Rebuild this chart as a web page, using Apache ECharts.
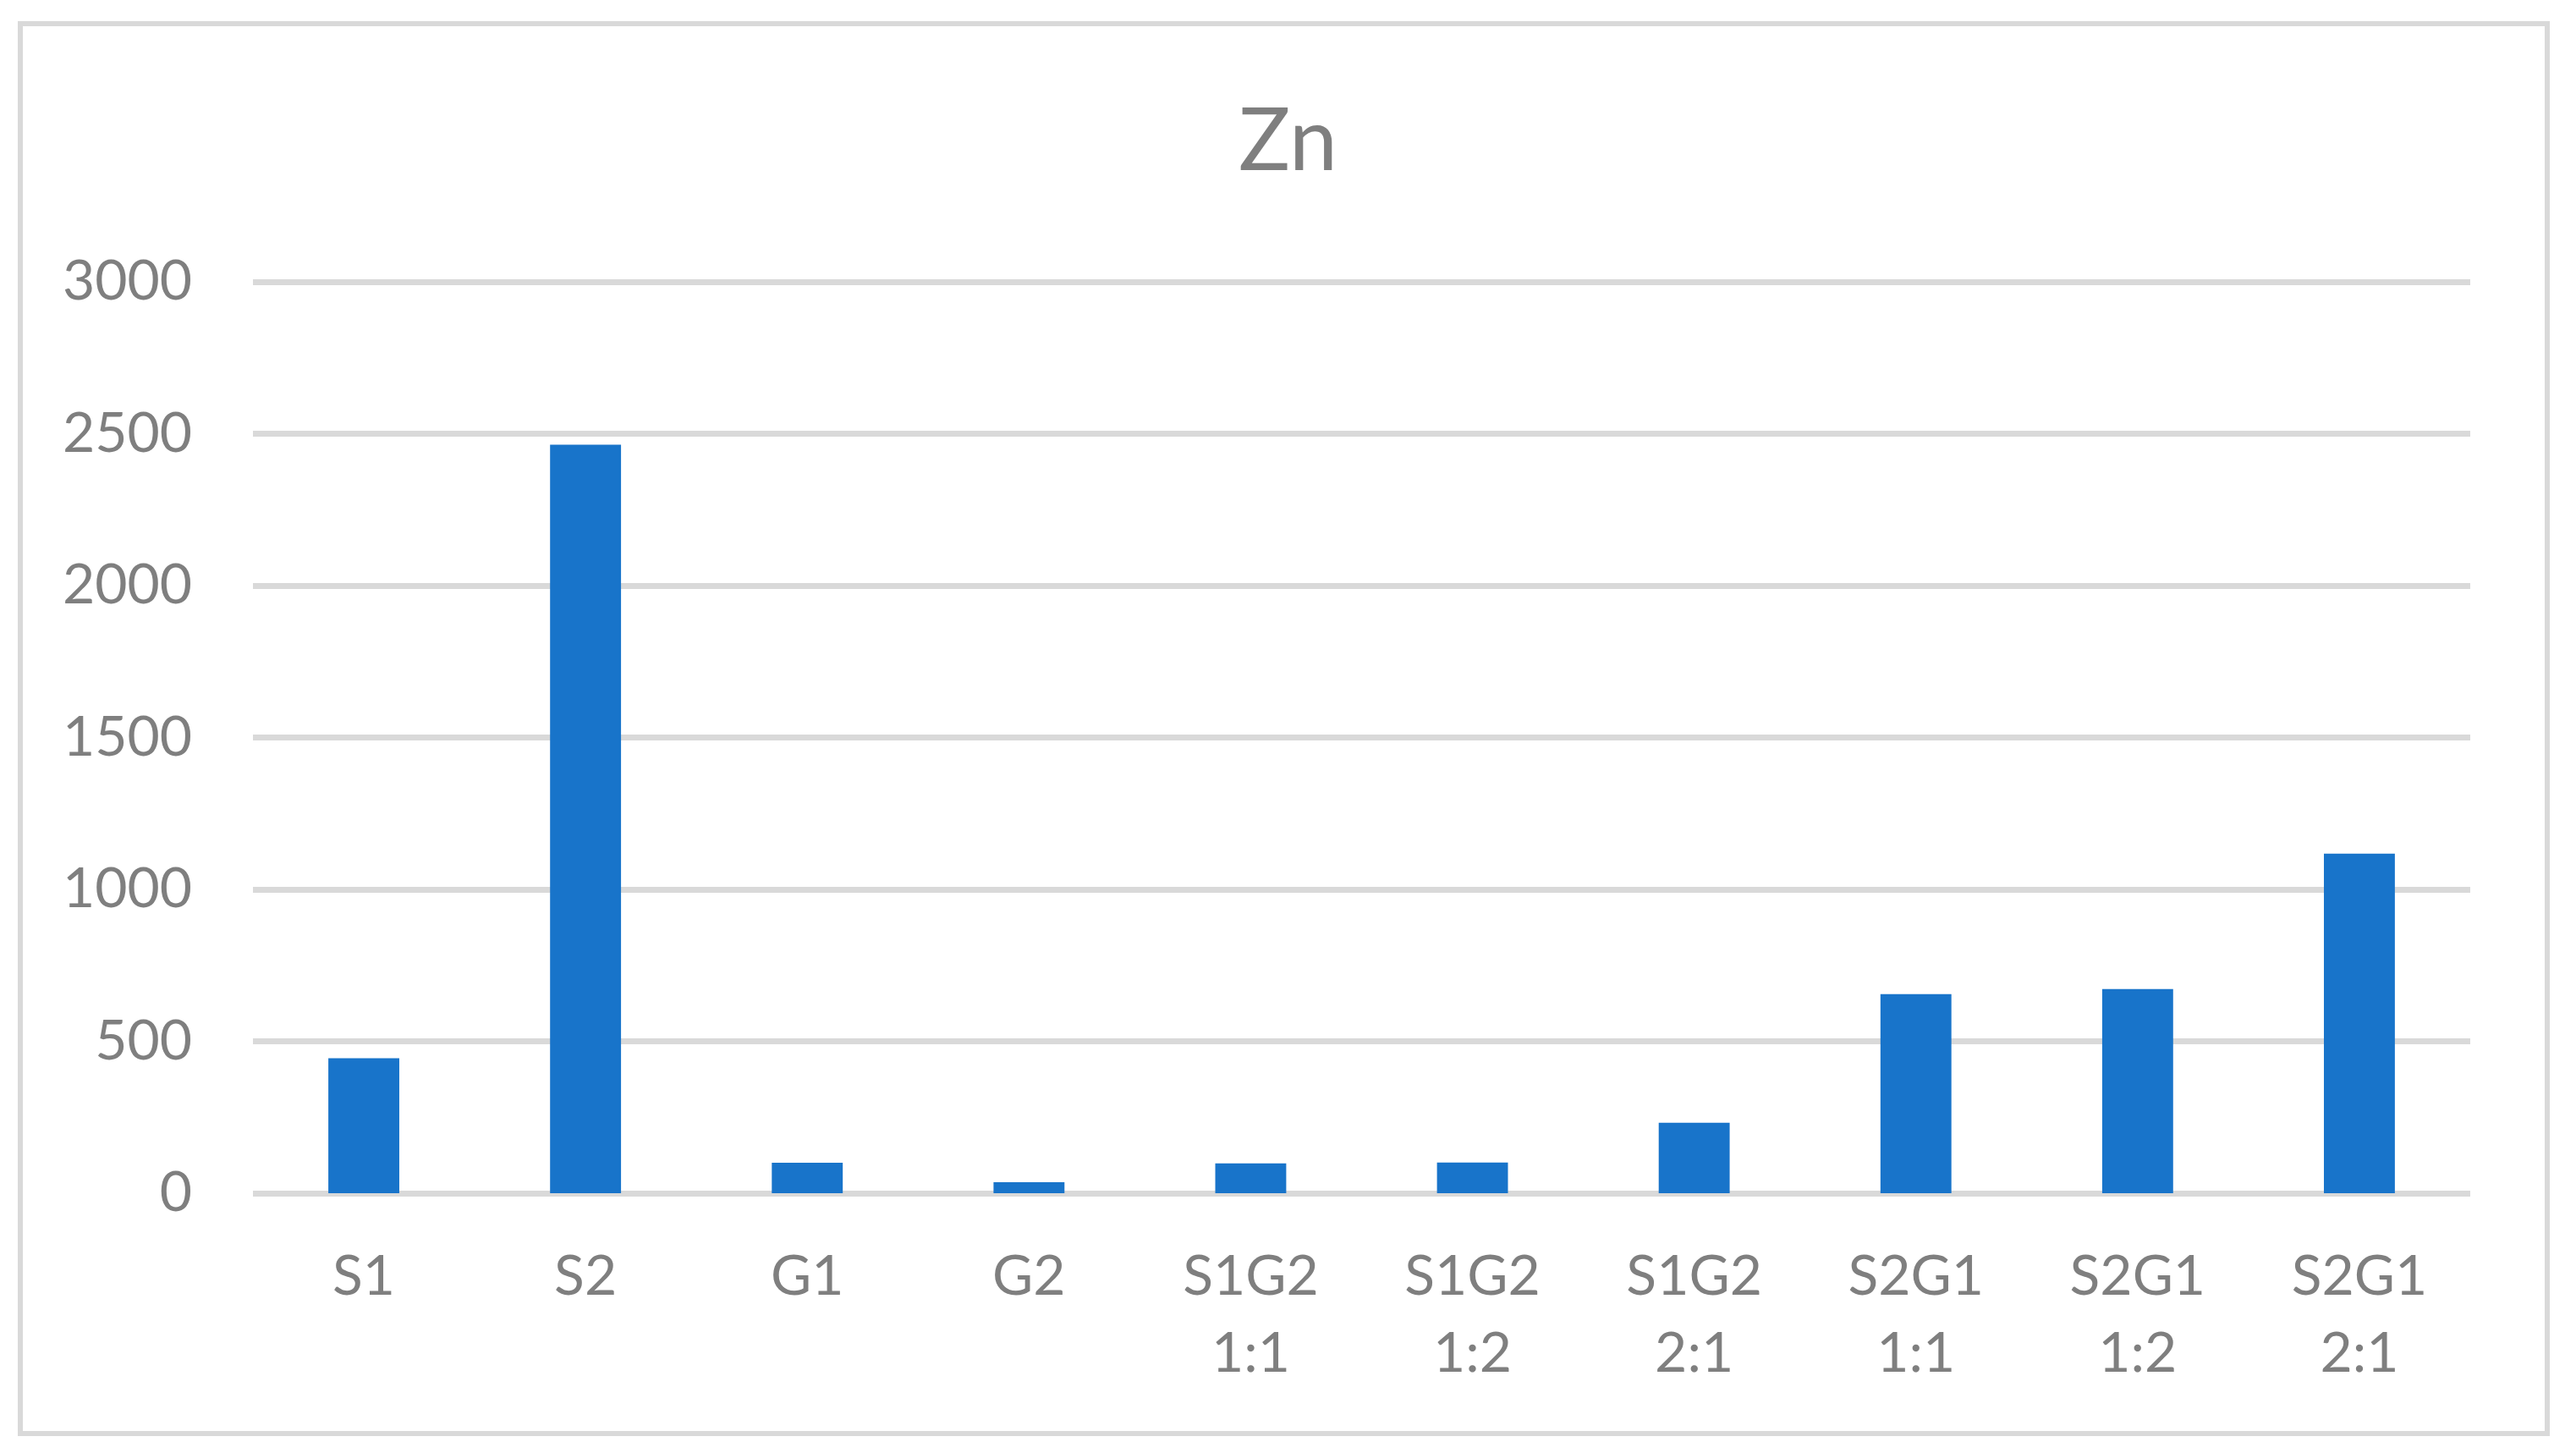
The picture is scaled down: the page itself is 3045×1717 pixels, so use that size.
<!DOCTYPE html>
<html>
<head>
<meta charset="utf-8">
<script src="https://cdn.jsdelivr.net/npm/echarts@6/dist/echarts.min.js"></script>
<style>
  html, body { margin: 0; padding: 0; background: #ffffff; }
  #chart { width: 3045px; height: 1717px; }
</style>
</head>
<body>
<div id="chart"></div>
<script>
const titleText = 'Zn';
const categories = ['S1', 'S2', 'G1', 'G2', 'S1G2 1:1', 'S1G2 1:2', 'S1G2 2:1', 'S2G1 1:1', 'S2G1 1:2', 'S2G1 2:1'];
const znValues = [444, 2464, 100, 36, 98, 101, 232, 655, 672, 1118];
const yTicks = { min: 0, max: 3000, interval: 500 };

const textColor = '#7f7f7f';
const gridColor = '#d9d9d9';
const font = 'Lato';

const chart = echarts.init(document.getElementById('chart'), null, { renderer: 'canvas' });
chart.setOption({
  backgroundColor: '#ffffff',
  animation: false,
  title: {
    text: titleText,
    left: 'center',
    top: 112,
    textStyle: { fontFamily: font, fontSize: 102, fontWeight: 'normal', color: textColor, lineHeight: 102 }
  },
  graphic: [{
    type: 'rect',
    shape: { x: 24, y: 28, width: 2987, height: 1666 },
    style: { fill: 'none', stroke: gridColor, lineWidth: 6 },
    silent: true,
    z: -1
  }],
  grid: { left: 299, right: 125, top: 333, bottom: 307, containLabel: false },
  xAxis: {
    type: 'category',
    data: categories,
    axisLine: { show: false },
    axisTick: { show: false },
    axisLabel: {
      interval: 0,
      margin: 53,
      fontFamily: font,
      fontSize: 66,
      lineHeight: 91,
      color: textColor,
      formatter: v => v.replace(' ', '\n')
    }
  },
  yAxis: {
    type: 'value',
    min: yTicks.min,
    max: yTicks.max,
    interval: yTicks.interval,
    axisLine: { show: false },
    axisTick: { show: false },
    axisLabel: { margin: 72, fontFamily: font, fontSize: 66, color: textColor, formatter: v => String(v) },
    splitLine: { show: true, lineStyle: { color: gridColor, width: 7 } }
  },
  series: [{
    type: 'bar',
    name: titleText,
    data: znValues,
    barWidth: '32%',
    itemStyle: { color: '#1874ca' },
    z: 3
  }]
});
</script>
</body>
</html>
